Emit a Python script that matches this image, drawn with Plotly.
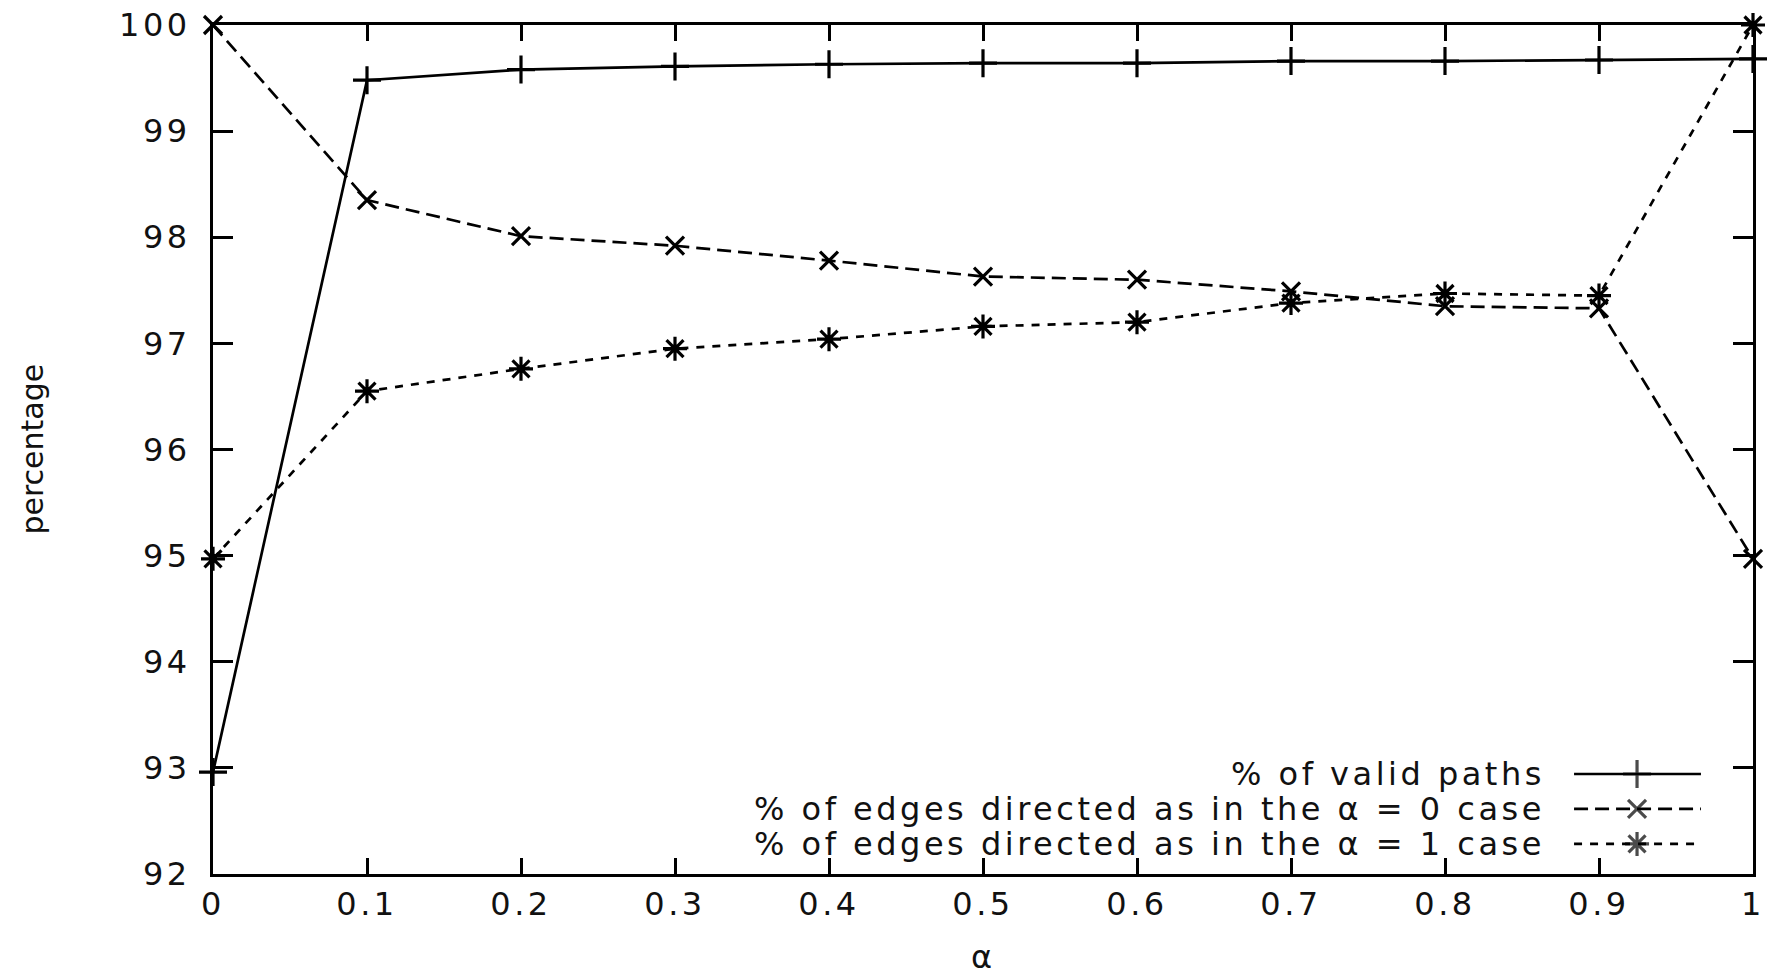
import plotly.graph_objects as go

alpha = [0, 0.1, 0.2, 0.3, 0.4, 0.5, 0.6, 0.7, 0.8, 0.9, 1.0]
valid_paths = [92.96, 99.48, 99.58, 99.61, 99.63, 99.64, 99.64, 99.66, 99.66, 99.67, 99.68]
dir_alpha0 = [100.0, 98.35, 98.01, 97.92, 97.78, 97.63, 97.60, 97.49, 97.35, 97.33, 94.97]
dir_alpha1 = [94.97, 96.55, 96.76, 96.95, 97.04, 97.16, 97.20, 97.38, 97.47, 97.45, 100.0]

names = ["% of valid paths",
         "% of edges directed as in the α = 0 case",
         "% of edges directed as in the α = 1 case"]
xtick_vals = alpha
xtick_text = ["0", "0.1", "0.2", "0.3", "0.4", "0.5", "0.6", "0.7", "0.8", "0.9", "1"]
ytick_vals = [92, 93, 94, 95, 96, 97, 98, 99, 100]
ytick_text = ["92", "93", "94", "95", "96", "97", "98", "99", "100"]
x_title = "α"
y_title = "percentage"

FONT = "DejaVu Sans"
FS = 32
SPACING = "letter-spacing:3.5px"


def wide(s):
    return '<span style="%s">%s</span>' % (SPACING, s)


styles = [
    dict(dash="solid", symbol="cross-thin", size=20),
    dict(dash="14px,7px", symbol="x-thin", size=18),
    dict(dash="8px,8px", symbol="asterisk", size=20),
]
series = [valid_paths, dir_alpha0, dir_alpha1]

fig = go.Figure()
for vals, st, nm in zip(series, styles, names):
    fig.add_trace(go.Scatter(
        x=alpha, y=vals, name=nm, mode="lines+markers",
        line=dict(color="black", width=2.7, dash=st["dash"]),
        marker=dict(symbol=st["symbol"], size=st["size"],
                    line=dict(color="black", width=3.2), color="black"),
        cliponaxis=False, showlegend=False))

# custom legend (text right-aligned, sample on the right), in overlay unit axes
leg_y = [0.1178, 0.0766, 0.0354]
leg_text_x = 0.8662
leg_x0, leg_xm, leg_x1 = 0.8838, 0.9247, 0.9662
for ly, st, nm in zip(leg_y, styles, names):
    fig.add_trace(go.Scatter(
        x=[leg_x0, leg_xm, leg_x1], y=[ly, ly, ly], mode="lines+markers",
        xaxis="x2", yaxis="y2",
        line=dict(color="black", width=2.7, dash=st["dash"]),
        marker=dict(symbol=st["symbol"], size=[0, st["size"], 0],
                    line=dict(color="black", width=3.2), color="black"),
        cliponaxis=False, showlegend=False, hoverinfo="skip"))
    fig.add_annotation(x=leg_text_x, y=ly, xref="paper", yref="paper",
                       text=wide(nm), showarrow=False, xanchor="right", yanchor="middle",
                       font=dict(family=FONT, size=FS, color="#111"))

# axis titles
fig.add_annotation(x=-0.1175, y=0.5, xref="paper", yref="paper", text=y_title,
                   textangle=-90, showarrow=False, xanchor="center", yanchor="middle",
                   font=dict(family=FONT, size=30, color="#111"))
fig.add_annotation(x=0.5, y=-0.0978, xref="paper", yref="paper", text=wide(x_title),
                   showarrow=False, xanchor="center", yanchor="middle",
                   font=dict(family=FONT, size=FS, color="#111"))

axis_common = dict(showline=True, linecolor="black", linewidth=3, mirror="ticks",
                   ticks="inside", tickcolor="black", tickwidth=3,
                   showgrid=False, zeroline=False, ticklabeloverflow="allow",
                   tickfont=dict(family=FONT, size=FS, color="#111"))

fig.update_layout(
    width=1788, height=973,
    margin=dict(l=213, r=35, t=25, b=99, autoexpand=False),
    paper_bgcolor="white", plot_bgcolor="white",
    xaxis=dict(range=[0, 1], tickvals=xtick_vals, ticktext=[wide(t) for t in xtick_text],
               ticklen=16, ticklabelstandoff=0, automargin=False, **axis_common),
    yaxis=dict(range=[92, 100], tickvals=ytick_vals, ticktext=[wide(t) for t in ytick_text],
               ticklen=20, ticklabelstandoff=13, automargin=False, **axis_common),
    xaxis2=dict(overlaying="x", range=[0, 1], visible=False, domain=[0, 1]),
    yaxis2=dict(overlaying="y", range=[0, 1], visible=False, domain=[0, 1]),
)

# remove the browser's default page margin so the figure fills the window exactly
fig.write_html("out.html", config={"displayModeBar": False},
               post_script="document.body.style.margin='0';")
